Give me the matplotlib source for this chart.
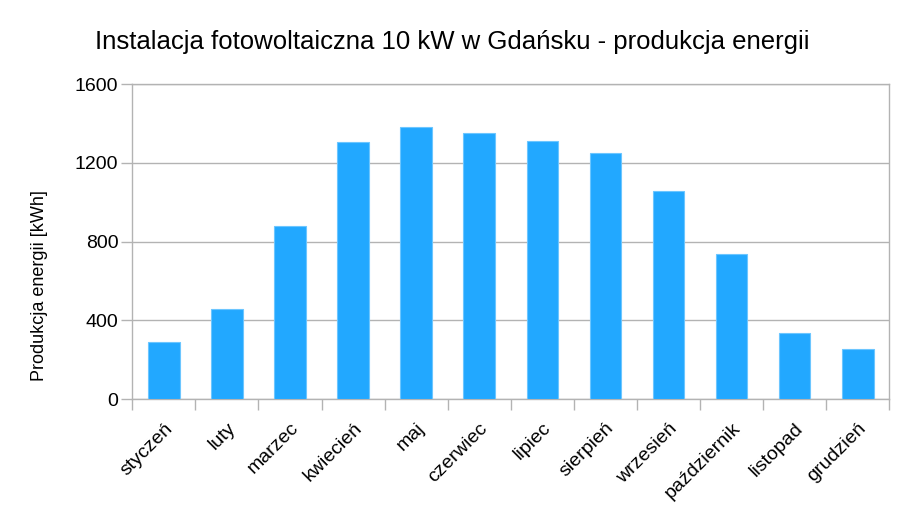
import matplotlib.pyplot as plt
import numpy as np

# Monthly energy production (kWh)
months = ["styczeń", "luty", "marzec", "kwiecień", "maj", "czerwiec",
          "lipiec", "sierpień", "wrzesień", "październik", "listopad", "grudzień"]
production = [290, 458, 878, 1305, 1383, 1351, 1310, 1251, 1059, 736, 334, 253]
y_ticks = [0, 400, 800, 1200, 1600]

plt.rcParams["font.family"] = ["Liberation Sans", "DejaVu Sans"]

fig = plt.figure(figsize=(9.08, 5.11), dpi=100)
ax = fig.add_axes([132.3 / 908, 1 - 399 / 511, (889.3 - 132.3) / 908, (399 - 84.3) / 511])

x = np.arange(len(months))
ax.bar(x, production, width=0.5, color="#22a8ff", edgecolor="#6cc6ff",
       linewidth=0.8, zorder=3)

ax.set_xlim(-0.5, len(months) - 0.5)
ax.set_ylim(0, 1600)
ax.set_yticks(y_ticks)
ax.set_yticklabels([str(v) for v in y_ticks], fontsize=14)

# Ticks on category boundaries, labels at centres
ax.set_xticks(np.arange(len(months) + 1) - 0.5)
ax.set_xticklabels([])
ax.set_xticks(x, minor=True)
ax.set_xticklabels(months, minor=True, rotation=45, ha="right",
                   rotation_mode="anchor", fontsize=14)
ax.tick_params(axis="x", which="minor", length=0, pad=15)
ax.tick_params(axis="x", which="major", length=8, color="#b3b3b3", width=1)
ax.tick_params(axis="y", length=8, color="#b3b3b3", width=1, pad=2)

ax.grid(axis="y", color="#b3b3b3", linewidth=1, zorder=0)
for side in ["left", "right", "top", "bottom"]:
    ax.spines[side].set_color("#b3b3b3")
    ax.spines[side].set_linewidth(1)

# Axis title sits lower than the plot centre in the original
fig.text(40 / 908, 1 - 286 / 511, "Produkcja energii [kWh]", rotation=90,
         ha="center", va="center", fontsize=13)
fig.text(452 / 908, 1 - 42 / 511, "Instalacja fotowoltaiczna 10 kW w Gdańsku - produkcja energii",
         ha="center", va="center", fontsize=18.5)

fig.savefig("out.png", dpi=100)
